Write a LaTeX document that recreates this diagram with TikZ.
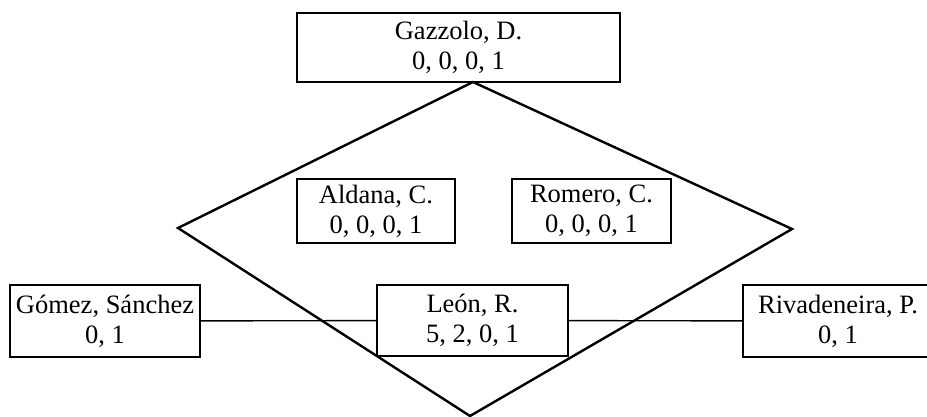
\documentclass[tikz,border=0pt]{standalone}
\usepackage{fontspec}
\setmainfont{Liberation Serif}
\begin{document}
\begin{tikzpicture}[x=1pt,y=1pt]
\tikzstyle{every node}+=[inner sep=0pt]
\tikzstyle{box}=[draw=black, line width=1.3pt, align=center, font=\fontsize{26.5}{30}\selectfont]
\useasboundingbox (0,0) rectangle (927,-417);
% boxes
\node [box, minimum width=323, minimum height=69] (gazzolo) at (458.5,-47.5) {Gazzolo, D.\\0, 0, 0, 1};
\node [box, minimum width=158, minimum height=64] (aldana) at (376,-211) {Aldana, C.\\0, 0, 0, 1};
\node [box, minimum width=159, minimum height=64] (romero) at (591.5,-211) {Romero, C.\\0, 0, 0, 1};
\node [box, minimum width=190, minimum height=72] (gomez) at (105,-321) {Gómez, Sánchez\\0, 1};
\node [box, minimum width=191, minimum height=71] (leon) at (472.5,-320.5) {León, R.\\5, 2, 0, 1};
\node [box, minimum width=190, minimum height=72] (rivadeneira) at (838,-321) {Rivadeneira, P.\\0, 1};
% diamond
\coordinate (dn) at (473,-82);
\coordinate (de) at (792,-229);
\coordinate (ds) at (470,-416);
\coordinate (dw) at (178,-228);
\draw [black, line width=2.4pt] (dn) -- (de) -- (ds) -- (dw) -- cycle;
% links
\draw [black, line width=1.4pt] (gomez) -- (leon);
\draw [black, line width=1.4pt] (leon) -- (rivadeneira);
\end{tikzpicture}
\end{document}
